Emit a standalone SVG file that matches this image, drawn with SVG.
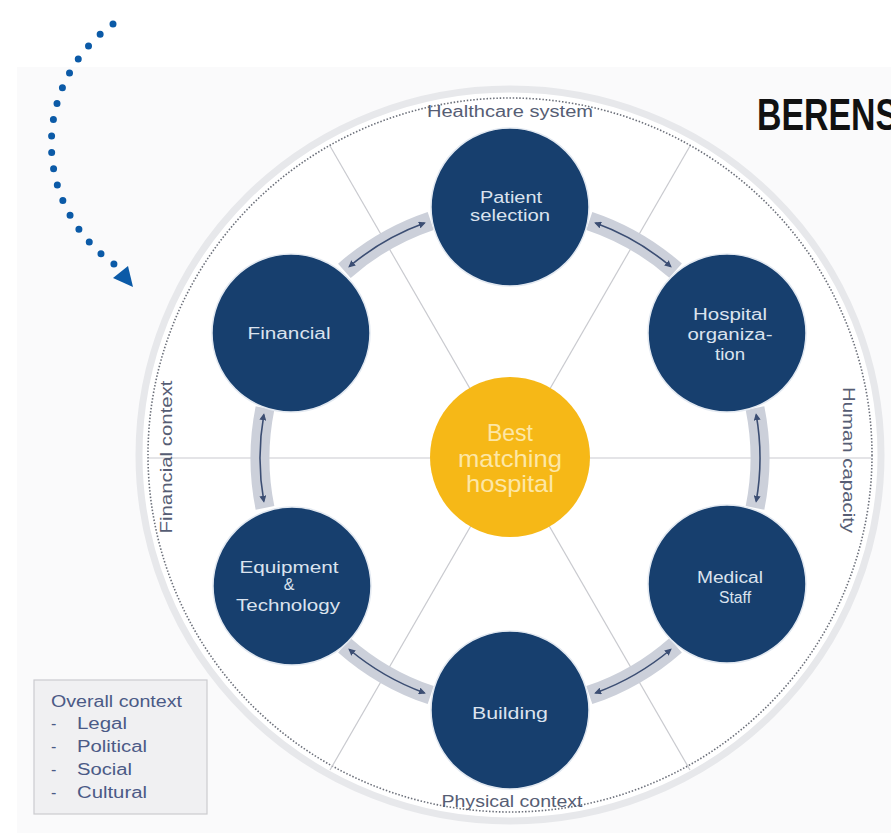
<svg xmlns="http://www.w3.org/2000/svg" width="891" height="833" viewBox="0 0 891 833">
<defs>
<style>
.node{fill:#173f6e;stroke:#e3e9f1;stroke-width:1.5}
.nt{font-family:"Liberation Sans",Arial,sans-serif;font-size:16px;fill:#dbe3ee;text-anchor:middle}
.ct{font-family:"Liberation Sans",Arial,sans-serif;font-size:24px;fill:#fde7a6;text-anchor:middle}
.ring{font-family:"Liberation Sans",Arial,sans-serif;font-size:16px;fill:#565d74;text-anchor:middle}
.ov{font-family:"Liberation Sans",Arial,sans-serif;font-size:16px;fill:#4b5a86}
.band{fill:none;stroke:#ccd0da;stroke-width:19}
.arr{fill:none;stroke:#3c4e73;stroke-width:1.6;marker-start:url(#ah);marker-end:url(#ah)}
.rad{stroke:#c9cacf;stroke-width:1.2}
</style>
<marker id="ah" viewBox="0 0 10 10" refX="8" refY="5" markerWidth="7" markerHeight="7" markerUnits="userSpaceOnUse" orient="auto-start-reverse">
<path d="M0,0 L10,5 L0,10 z" fill="#3c4e73"/>
</marker>
</defs>
<rect width="891" height="833" fill="#ffffff"/>
<rect x="17" y="67" width="874" height="766" fill="#fafafb"/>
<g id="ring">
<ellipse cx="510" cy="455" rx="371" ry="366" fill="#ffffff" stroke="#e7e8eb" stroke-width="7"/>
<ellipse cx="510" cy="455" rx="362" ry="357" fill="#ffffff" stroke="#6c707a" stroke-width="1.6" stroke-dasharray="1.5 1.8"/>
</g>
<g id="radials">
<line class="rad" x1="510" y1="458" x2="871" y2="458"/>
<line class="rad" x1="510" y1="458" x2="149" y2="458"/>
<line class="rad" x1="510" y1="458" x2="690" y2="770"/>
<line class="rad" x1="510" y1="458" x2="330" y2="770"/>
<line class="rad" x1="510" y1="458" x2="330" y2="146"/>
<line class="rad" x1="510" y1="458" x2="690" y2="146"/>
</g>
<g id="ring-labels">
<text class="ring" x="510" y="117" textLength="166" lengthAdjust="spacingAndGlyphs">Healthcare system</text>
<text class="ring" x="512" y="807" textLength="141" lengthAdjust="spacingAndGlyphs">Physical context</text>
<text class="ring" transform="translate(172,457) rotate(-90)" x="0" y="0" textLength="153" lengthAdjust="spacingAndGlyphs">Financial context</text>
<text class="ring" transform="translate(843,460) rotate(90)" x="0" y="0" textLength="146" lengthAdjust="spacingAndGlyphs">Human capacity</text>
</g>
<g id="connectors">
<path class="band" d="M589.3,220.9 A250,250 0 0 1 675.6,270.7"/>
<path class="band" d="M755,408.1 A250,250 0 0 1 755,507.9"/>
<path class="band" d="M675.6,645.3 A250,250 0 0 1 589.3,695.1"/>
<path class="band" d="M430.7,695.1 A250,250 0 0 1 344.4,645.3"/>
<path class="band" d="M265,507.9 A250,250 0 0 1 265,408.1"/>
<path class="band" d="M344.4,270.8 A250,250 0 0 1 430.7,220.9"/>
<path class="arr" d="M595.5,223.1 A250,250 0 0 1 670.7,266.5"/>
<path class="arr" d="M756.2,414.6 A250,250 0 0 1 756.2,501.4"/>
<path class="arr" d="M670.7,649.5 A250,250 0 0 1 595.5,692.9"/>
<path class="arr" d="M424.5,692.9 A250,250 0 0 1 349.3,649.5"/>
<path class="arr" d="M263.8,501.4 A250,250 0 0 1 263.8,414.6"/>
<path class="arr" d="M349.3,266.5 A250,250 0 0 1 424.5,223.1"/>
</g>
<g id="center">
<circle cx="510" cy="457" r="80" fill="#f6b817"/>
<text class="ct" x="510" y="441" textLength="46" lengthAdjust="spacingAndGlyphs">Best</text>
<text class="ct" x="510" y="467" textLength="104" lengthAdjust="spacingAndGlyphs">matching</text>
<text class="ct" x="510" y="492" textLength="88" lengthAdjust="spacingAndGlyphs">hospital</text>
</g>
<g id="patient-selection">
<circle class="node" cx="510" cy="207" r="79"/>
<text class="nt" x="511" y="203" textLength="62" lengthAdjust="spacingAndGlyphs">Patient</text>
<text class="nt" x="510" y="221" textLength="80" lengthAdjust="spacingAndGlyphs">selection</text>
</g>
<g id="hospital-organization">
<circle class="node" cx="727" cy="333" r="79"/>
<text class="nt" x="730" y="320" textLength="74" lengthAdjust="spacingAndGlyphs">Hospital</text>
<text class="nt" x="730" y="340" textLength="85" lengthAdjust="spacingAndGlyphs">organiza-</text>
<text class="nt" x="730" y="360" textLength="30" lengthAdjust="spacingAndGlyphs">tion</text>
</g>
<g id="medical-staff">
<circle class="node" cx="727" cy="584" r="79"/>
<text class="nt" x="730" y="583" textLength="66" lengthAdjust="spacingAndGlyphs">Medical</text>
<text class="nt" x="735" y="603" textLength="32" lengthAdjust="spacingAndGlyphs">Staff</text>
</g>
<g id="building">
<circle class="node" cx="510" cy="710" r="79"/>
<text class="nt" x="510" y="719" textLength="76" lengthAdjust="spacingAndGlyphs">Building</text>
</g>
<g id="equipment-technology">
<circle class="node" cx="292" cy="586" r="79"/>
<text class="nt" x="289" y="573" textLength="99" lengthAdjust="spacingAndGlyphs">Equipment</text>
<text class="nt" x="289" y="590">&amp;</text>
<text class="nt" x="288" y="611" textLength="104" lengthAdjust="spacingAndGlyphs">Technology</text>
</g>
<g id="financial">
<circle class="node" cx="291" cy="333" r="79"/>
<text class="nt" x="289" y="339" textLength="83" lengthAdjust="spacingAndGlyphs">Financial</text>
</g>
<g id="overall-context">
<rect x="34" y="680" width="173" height="134" fill="#f0f0f2" stroke="#cbcbcf" stroke-width="1.2"/>
<text class="ov" x="51" y="707" textLength="131" lengthAdjust="spacingAndGlyphs">Overall context</text>
<text class="ov" x="51" y="729">-</text>
<text class="ov" x="77" y="729" textLength="50" lengthAdjust="spacingAndGlyphs">Legal</text>
<text class="ov" x="51" y="752">-</text>
<text class="ov" x="77" y="752" textLength="70" lengthAdjust="spacingAndGlyphs">Political</text>
<text class="ov" x="51" y="775">-</text>
<text class="ov" x="77" y="775" textLength="55" lengthAdjust="spacingAndGlyphs">Social</text>
<text class="ov" x="51" y="798">-</text>
<text class="ov" x="77" y="798" textLength="70" lengthAdjust="spacingAndGlyphs">Cultural</text>
</g>
<g id="title">
<text x="757" y="130" font-family="Liberation Sans,Arial,sans-serif" font-weight="bold" font-size="44" fill="#111111" textLength="141" lengthAdjust="spacingAndGlyphs">BERENS</text>
</g>
<g id="dotted-arrow">
<path d="M113,24 A147,147 0 0 0 114,264" fill="none" stroke="#0b5aa7" stroke-width="7" stroke-linecap="round" stroke-dasharray="0 16.5"/>
<polygon points="113,278 128,266 133,287" fill="#0b5aa7"/>
</g>
</svg>
